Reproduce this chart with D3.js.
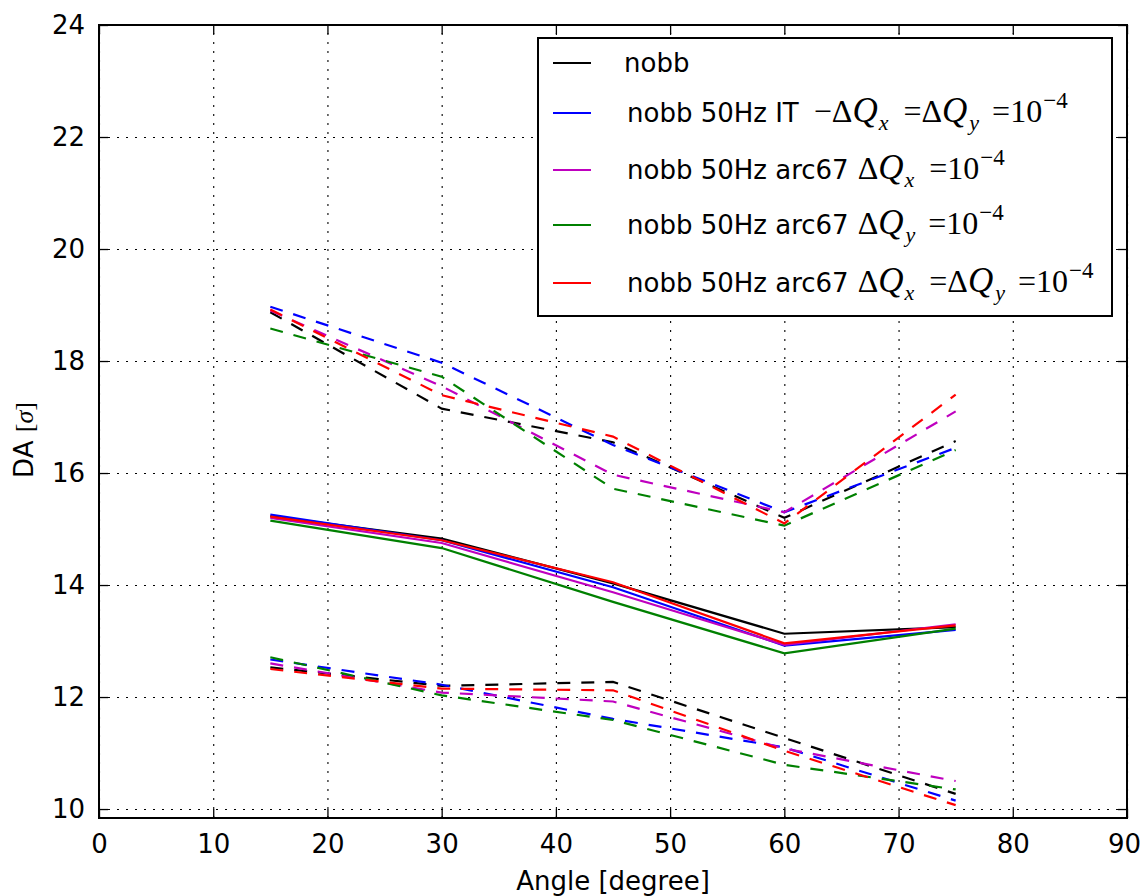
<!DOCTYPE html>
<html><head><meta charset="utf-8">
<script src="https://cdn.jsdelivr.net/npm/d3@7"></script>
<style>
body{margin:0;background:#fff;}
svg{display:block;}
.tick text{font-family:"DejaVu Sans",sans-serif;}
</style></head>
<body><svg id="c" width="1142" height="896"></svg>
<script>
const angles = [15, 30, 45, 60, 75];
const xTicks = [0, 10, 20, 30, 40, 50, 60, 70, 80, 90];
const yTicks = [10, 12, 14, 16, 18, 20, 22, 24];
const seriesNames = ["nobb", "blue", "magenta", "green", "red"];
const seriesColors = ["#000000", "#0000ff", "#bf00bf", "#008000", "#ff0000"];

// solid (middle) lines
const meanBlack   = [15.23, 14.83, 14.03, 13.13, 13.25];
const meanBlue    = [15.26, 14.80, 13.96, 12.92, 13.20];
const meanMagenta = [15.20, 14.75, 13.87, 12.93, 13.30];
const meanGreen   = [15.15, 14.66, 13.70, 12.78, 13.22];
const meanRed     = [15.22, 14.80, 14.05, 12.96, 13.28];
// upper dashed lines
const upBlack   = [18.87, 17.15, 16.55, 15.20, 16.57];
const upBlue    = [18.97, 17.97, 16.50, 15.30, 16.45];
const upMagenta = [18.90, 17.55, 15.97, 15.30, 17.10];
const upGreen   = [18.58, 17.72, 15.72, 15.06, 16.41];
const upRed     = [18.92, 17.39, 16.65, 15.10, 17.40];
// lower dashed lines
const loBlack   = [12.53, 12.20, 12.27, 11.27, 10.27];
const loBlue    = [12.67, 12.22, 11.61, 11.10, 10.15];
const loMagenta = [12.60, 12.08, 11.92, 11.08, 10.50];
const loGreen   = [12.71, 12.03, 11.59, 10.79, 10.35];
const loRed     = [12.50, 12.15, 12.12, 11.04, 10.07];

const means = [meanBlack, meanBlue, meanMagenta, meanGreen, meanRed];
const ups = [upBlack, upBlue, upMagenta, upGreen, upRed];
const los = [loBlack, loBlue, loMagenta, loGreen, loRed];

const L = 99, R = 1127, T = 25, B = 818;
const svg = d3.select("#c");
const x = d3.scaleLinear().domain([0, 90]).range([L, R]);
const y = d3.scaleLinear().domain([9.84, 24]).range([B, T]);

// grid
const gridX = svg.append("g").attr("transform", `translate(0,${B})`)
  .call(d3.axisBottom(x).tickValues(xTicks).tickSize(-(B - T)).tickFormat(""));
const gridY = svg.append("g").attr("transform", `translate(${L},0)`)
  .call(d3.axisLeft(y).tickValues(yTicks).tickSize(-(R - L)).tickFormat(""));
[gridX, gridY].forEach(g => {
  g.select(".domain").remove();
  g.selectAll(".tick line").attr("stroke", "#000").attr("stroke-width", 1.1)
    .attr("stroke-dasharray", "2,7");
});

// data lines
const line = d3.line().x((d, i) => x(angles[i])).y(d => y(d));
const plot = svg.append("g");
seriesNames.forEach((n, s) => {
  plot.append("path").attr("d", line(means[s])).attr("fill", "none")
    .attr("stroke", seriesColors[s]).attr("stroke-width", 2.2);
  plot.append("path").attr("d", line(ups[s])).attr("fill", "none")
    .attr("stroke", seriesColors[s]).attr("stroke-width", 2.2).attr("stroke-dasharray", "13,11");
  plot.append("path").attr("d", line(los[s])).attr("fill", "none")
    .attr("stroke", seriesColors[s]).attr("stroke-width", 2.2).attr("stroke-dasharray", "13,11");
});

// axes with inward ticks
const fs = 26;
const axB = svg.append("g").attr("transform", `translate(0,${B})`)
  .call(d3.axisBottom(x).tickValues(xTicks).tickSizeInner(-9).tickSizeOuter(0).tickPadding(17));
const axT = svg.append("g").attr("transform", `translate(0,${T})`)
  .call(d3.axisTop(x).tickValues(xTicks).tickSizeInner(-9).tickSizeOuter(0).tickFormat(""));
const axL = svg.append("g").attr("transform", `translate(${L},0)`)
  .call(d3.axisLeft(y).tickValues(yTicks).tickSizeInner(-9).tickSizeOuter(0).tickPadding(14));
const axR = svg.append("g").attr("transform", `translate(${R},0)`)
  .call(d3.axisRight(y).tickValues(yTicks).tickSizeInner(-9).tickSizeOuter(0).tickFormat(""));
[axB, axT, axL, axR].forEach(g => {
  g.select(".domain").remove();
  g.selectAll(".tick line").attr("stroke", "#000").attr("stroke-width", 1.3);
  g.selectAll(".tick text").attr("font-size", fs).attr("fill", "#000");
});
axB.selectAll(".tick text").filter(d => d === 90).attr("dx", -3);
svg.append("rect").attr("x", L).attr("y", T).attr("width", R - L).attr("height", B - T)
  .attr("fill", "none").attr("stroke", "#000").attr("stroke-width", 2);

// axis labels
svg.append("text").attr("x", (L + R) / 2 + 0).attr("y", 890).attr("text-anchor", "middle")
  .attr("font-family", "DejaVu Sans, sans-serif").attr("font-size", fs).text("Angle [degree]");
const yl = svg.append("text").attr("transform", "translate(33,440) rotate(-90)")
  .attr("text-anchor", "middle").attr("font-family", "DejaVu Sans, sans-serif").attr("font-size", fs);
yl.append("tspan").text("DA ");
yl.append("tspan").attr("font-family", "Liberation Serif, serif").text("[");
yl.append("tspan").attr("font-family", "Liberation Serif, serif").attr("font-style", "italic").text("σ");
yl.append("tspan").attr("font-family", "Liberation Serif, serif").text("]");

// legend
const lg = svg.append("g");
lg.append("rect").attr("x", 538).attr("y", 38).attr("width", 574).attr("height", 278)
  .attr("fill", "#fff").attr("stroke", "#000").attr("stroke-width", 2);
const rowY = [63, 113, 170, 225, 283];
const mf = "Liberation Serif, serif";
// label pieces: [text, kind, dx]
const labels = [
  [["nobb", "n"]],
  [["nobb 50Hz IT", "n"], ["−Δ", "m", 15], ["Q", "i"], ["x", "sub", 1], ["=Δ", "m", 15], ["Q", "i"], ["y", "sub", 2], ["=10", "m", 13], ["−4", "sup", 1]],
  [["nobb 50Hz arc67", "n"], ["Δ", "m", 9], ["Q", "i"], ["x", "sub", 1], ["=10", "m", 15], ["−4", "sup", 1]],
  [["nobb 50Hz arc67", "n"], ["Δ", "m", 9], ["Q", "i"], ["y", "sub", 2], ["=10", "m", 13], ["−4", "sup", 1]],
  [["nobb 50Hz arc67", "n"], ["Δ", "m", 9], ["Q", "i"], ["x", "sub", 1], ["=Δ", "m", 15], ["Q", "i"], ["y", "sub", 2], ["=10", "m", 13], ["−4", "sup", 1]]
];
seriesNames.forEach((n, s) => {
  const yy = rowY[s];
  lg.append("line").attr("x1", 553).attr("x2", 591).attr("y1", yy).attr("y2", yy)
    .attr("stroke", seriesColors[s]).attr("stroke-width", 2.2);
  const t = lg.append("text").attr("x", s === 0 ? 624 : 627).attr("y", yy + 9)
    .attr("font-family", "DejaVu Sans, sans-serif").attr("font-size", fs).attr("fill", "#000");
  let shift = 0;
  labels[s].forEach(([txt, k, dx]) => {
    const sp = t.append("tspan").text(txt);
    let target = 0;
    if (k === "m") { sp.attr("font-family", mf).attr("font-size", 32); }
    else if (k === "i") { sp.attr("font-family", mf).attr("font-size", 35).attr("font-style", "italic"); }
    else if (k === "sub") { sp.attr("font-family", mf).attr("font-size", 22).attr("font-style", "italic"); target = 8; }
    else if (k === "sup") { sp.attr("font-family", mf).attr("font-size", 23); target = -14; }
    if (dx) sp.attr("dx", dx);
    sp.attr("dy", target - shift);
    shift = target;
  });
});
</script></body></html>
